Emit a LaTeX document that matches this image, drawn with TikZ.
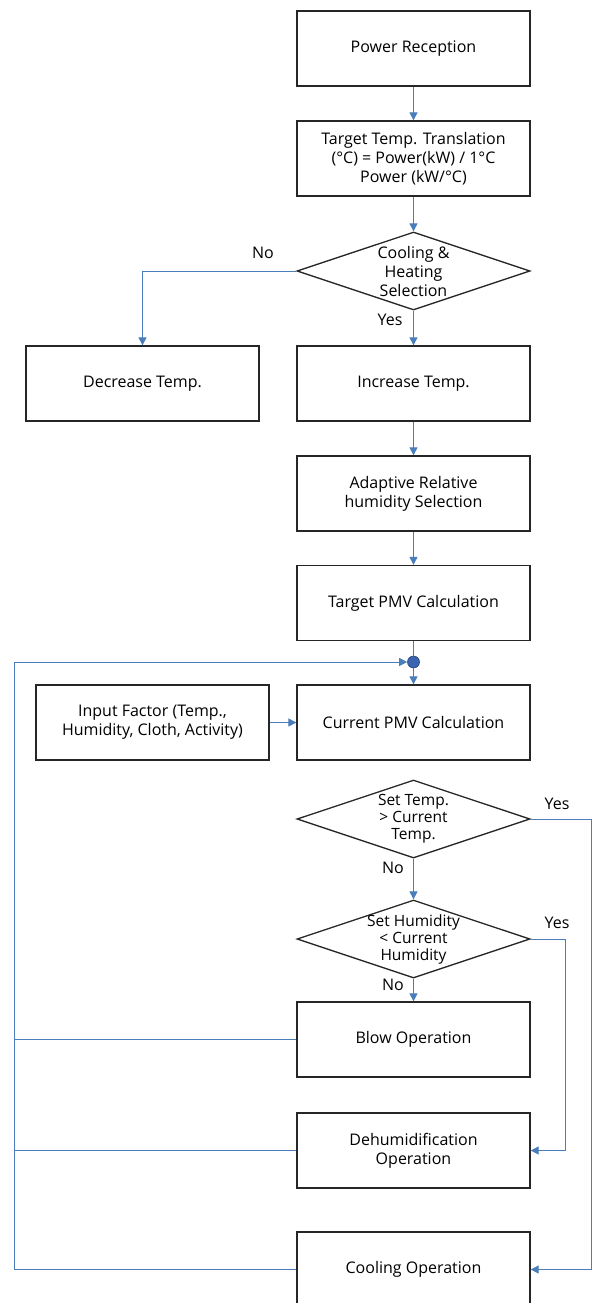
\documentclass[tikz,border=0pt]{standalone}
\usepackage{fontspec}
\setmainfont{Open Sans}
\usetikzlibrary{arrows.meta,shapes.geometric,calc}
\definecolor{lineblue}{RGB}{74,126,187}
\definecolor{boxline}{RGB}{38,38,38}
\definecolor{dotblue}{RGB}{58,100,175}
\begin{document}
\begin{tikzpicture}[x=1pt,y=-1pt,
  txtfont/.style={font=\fontsize{16}{19}\selectfont},
  box/.style={draw=boxline, line width=1.3pt, minimum width=233pt, minimum height=75pt,
    inner sep=0pt, align=center, txtfont},
  dia/.style={draw=boxline, line width=1.3pt, shape=diamond, minimum width=233pt,
    minimum height=78pt, inner sep=0pt},
  diatext/.style={align=center, inner sep=0pt, font=\fontsize{15.5}{17}\selectfont},
  lbl/.style={inner sep=0pt, txtfont},
  conn/.style={draw=lineblue, line width=1pt},
  arr/.style={conn, -{Triangle[length=8pt,width=8pt]}}
]
\useasboundingbox (0,0) rectangle (593,1303);

\node[box] (pr) at (413.5,48.5) {Power Reception};
\node[box] (tt) at (413.5,158.5) {Target Temp. Translation\\(°C) = Power(kW) / 1°C\\Power (kW/°C)};
\node[dia] (d1) at (413.5,271) {};
\node[diatext, font=\fontsize{16}{19}\selectfont] (d1t) at (413.5,271) {Cooling \&\\Heating\\Selection};
\node[box] (dec) at (142.5,383.5) {Decrease Temp.};
\node[box] (inc) at (413.5,383.5) {Increase Temp.};
\node[box] (ad) at (413.5,493.5) {Adaptive Relative\\humidity Selection};
\node[box] (tp) at (413.5,603) {Target PMV Calculation};
\node[circle, fill=dotblue, draw=dotblue!70!black, line width=0.6pt, minimum size=12pt, inner sep=0pt] (jn) at (413.5,662) {};
\node[box] (cur) at (413.5,722.5) {Current PMV Calculation};
\node[box] (inp) at (152.5,722.5) {Input Factor (Temp.,\\Humidity, Cloth, Activity)};
\node[dia] (d2) at (413.5,819) {};
\node[diatext] (d2t) at (413.5,819) {Set Temp.\\{>} Current\\Temp.};
\node[dia] (d3) at (413.5,939) {};
\node[diatext] (d3t) at (413.5,939) {Set Humidity\\{<} Current\\Humidity};
\node[box] (blow) at (413.5,1039.5) {Blow Operation};
\node[box] (dehum) at (413.5,1150.5) {Dehumidification\\Operation};
\node[box] (cool) at (413.5,1269.5) {Cooling Operation};

\node[lbl] (no1) at (263,253) {No};
\node[lbl] (yes1) at (390,320) {Yes};
\node[lbl] (yes2) at (557,804) {Yes};
\node[lbl] (no2) at (393,868) {No};
\node[lbl] (yes3) at (557,923) {Yes};
\node[lbl] (no3) at (393,985) {No};

\coordinate (r1) at (591.5,0);
\coordinate (r2) at (565,0);
\coordinate (l1) at (14,0);

\draw[arr] (pr) -- (tt);
\draw[arr] (tt) -- (d1);
\draw[arr] (d1.west) -| (dec.north);
\draw[arr] (d1) -- (inc);
\draw[arr] (inc) -- (ad);
\draw[arr] (ad) -- (tp);
\draw[conn] (tp) -- (jn);
\draw[arr] (jn) -- (cur);
\draw[arr] (inp) -- (cur);
\draw[arr] (d2.east) -- (d2.east -| r1) -- (r1 |- cool.east) -- (cool.east);
\draw[arr] (d2) -- (d3);
\draw[arr] (d3.east) -- (d3.east -| r2) -- (r2 |- dehum.east) -- (dehum.east);
\draw[arr] (d3) -- (blow);
\draw[conn] (blow.west) -- (blow.west -| l1);
\draw[conn] (dehum.west) -- (dehum.west -| l1);
\draw[arr] (cool.west) -- (cool.west -| l1) -- (l1 |- jn) -- (jn.west);
\end{tikzpicture}
\end{document}
